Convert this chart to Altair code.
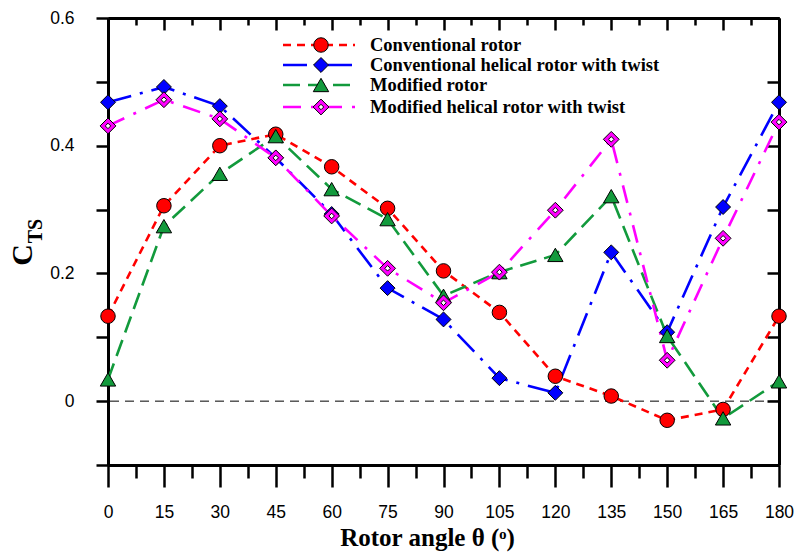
import altair as alt
import pandas as pd

angles = [0, 15, 30, 45, 60, 75, 90, 105, 120, 135, 150, 165, 180]
series_names = [
    "Conventional rotor",
    "Conventional helical rotor with twist",
    "Modified rotor",
    "Modified helical rotor with twist",
]
conv_rotor = [0.133, 0.306, 0.400, 0.418, 0.367, 0.302, 0.204, 0.139, 0.039, 0.008, -0.030, -0.013, 0.133]
conv_helical = [0.468, 0.492, 0.462, 0.381, 0.293, 0.177, 0.128, 0.036, 0.013, 0.233, 0.108, 0.304, 0.468]
mod_rotor = [0.034, 0.274, 0.356, 0.415, 0.332, 0.285, 0.165, 0.202, 0.229, 0.321, 0.102, -0.027, 0.031]
mod_helical = [0.431, 0.472, 0.442, 0.381, 0.290, 0.208, 0.154, 0.202, 0.299, 0.410, 0.064, 0.255, 0.437]

x_major = [0, 15, 30, 45, 60, 75, 90, 105, 120, 135, 150, 165, 180]
x_minor = [7.5, 22.5, 37.5, 52.5, 67.5, 82.5, 97.5, 112.5, 127.5, 142.5, 157.5, 172.5]
y_ticks = [-0.1, 0.0, 0.1, 0.2, 0.3, 0.4, 0.5, 0.6]
y_labels = ["0", "0.2", "0.4", "0.6"]

colors = ["#FF0000", "#0000FF", "#129A3C", "#FF00FF"]
dashes = [[8, 6], [24, 9, 3, 9], [17, 8], [18, 10, 3, 10]]
shapes = ["circle", "diamond", "triangle-up", "diamond"]
sizes = [210, 250, 230, 170]

W, H = 671, 447

rows = []
for name, vals in zip(series_names, [conv_rotor, conv_helical, mod_rotor, mod_helical]):
    for a, v in zip(angles, vals):
        rows.append({"angle": a, "cts": v, "series": name})
df = pd.DataFrame(rows)

color_scale = alt.Scale(domain=series_names, range=colors)
dash_scale = alt.Scale(domain=series_names, range=dashes)
shape_scale = alt.Scale(domain=series_names, range=shapes)
size_scale = alt.Scale(domain=series_names, range=sizes)

xs = alt.Scale(domain=[0, 180], nice=False, zero=False)
ys = alt.Scale(domain=[-0.1, 0.6], nice=False, zero=False)

serif = "Liberation Serif"
sans = "Liberation Sans"

common_axis = dict(domain=True, domainColor="black", domainWidth=3,
                   tickColor="black", tickWidth=2.5, grid=False)

# axis layer 1: bottom major x + left y
ax1 = alt.Chart(df).mark_point(opacity=0).encode(
    x=alt.X("angle:Q", scale=xs, axis=alt.Axis(
        orient="bottom", values=x_major, tickSize=22, labelFont=sans, labelFontSize=17.5,
        labelColor="black", labelPadding=16, format="d", labelFlush=False, labelOverlap=False,
        title="Rotor angle θ (ᵒ)", titleFont=serif, titleFontSize=25, titleFontWeight="bold",
        titleColor="black", titleX=319, titleY=80, titleBaseline="alphabetic", titleAlign="center",
        **common_axis)),
    y=alt.Y("cts:Q", scale=ys, axis=alt.Axis(
        orient="left", values=y_ticks, tickSize=12, labelFont=sans, labelFontSize=17.5,
        labelColor="black", labelPadding=22, format="~g", labelFlush=False, labelOverlap=False,
        labelExpr="indexof(" + str(y_labels) + ", datum.label) >= 0 ? datum.label : ''",
        title=None, **common_axis)),
)
# axis layer 2: bottom minor x + right (inward) y
ax2 = alt.Chart(df).mark_point(opacity=0).encode(
    x=alt.X("angle:Q", scale=xs, axis=alt.Axis(
        orient="bottom", values=x_minor, tickSize=13, labels=False, title=None, **common_axis)),
    y=alt.Y("cts:Q", scale=ys, axis=alt.Axis(
        orient="left", offset=-W, values=y_ticks, tickSize=12, labels=False, title=None, **common_axis)),
)
# axis layer 3: top major inward
ax3 = alt.Chart(df).mark_point(opacity=0).encode(
    x=alt.X("angle:Q", scale=xs, axis=alt.Axis(
        orient="bottom", offset=-H, values=x_major, tickSize=12, labels=False, title=None, **common_axis)),
    y=alt.Y("cts:Q", scale=ys, axis=None),
)
# axis layer 4: top minor inward
ax4 = alt.Chart(df).mark_point(opacity=0).encode(
    x=alt.X("angle:Q", scale=xs, axis=alt.Axis(
        orient="bottom", offset=-H, values=x_minor, tickSize=7, labels=False, title=None, **common_axis)),
    y=alt.Y("cts:Q", scale=ys, axis=None),
)

zero_line = alt.Chart(pd.DataFrame({"z": [0.0]})).mark_rule(
    color="black", strokeDash=[9, 6], strokeWidth=1
).encode(y=alt.Y("z:Q", scale=ys, axis=None))

lines = alt.Chart(df).mark_line(strokeWidth=2.6).encode(
    x=alt.X("angle:Q", scale=xs, axis=None),
    y=alt.Y("cts:Q", scale=ys, axis=None),
    color=alt.Color("series:N", scale=color_scale, legend=None),
    strokeDash=alt.StrokeDash("series:N", scale=dash_scale, legend=None),
    detail="series:N",
)

points = alt.Chart(df).mark_point(filled=True, opacity=1, stroke="black", strokeWidth=1).encode(
    x=alt.X("angle:Q", scale=xs, axis=None),
    y=alt.Y("cts:Q", scale=ys, axis=None),
    fill=alt.Fill("series:N", scale=color_scale, legend=None),
    shape=alt.Shape("series:N", scale=shape_scale, legend=None),
    size=alt.Size("series:N", scale=size_scale, legend=None),
)

inner = alt.Chart(df[df["series"] == series_names[3]]).mark_point(
    filled=True, opacity=1, fill="white", stroke="black", strokeWidth=1, shape="diamond", size=30
).encode(
    x=alt.X("angle:Q", scale=xs, axis=None),
    y=alt.Y("cts:Q", scale=ys, axis=None),
)

# legend (inside plot, top)
leg_y = [27, 47, 67, 89]
leg = pd.DataFrame({"series": series_names, "ly": leg_y})
leg_lines = alt.Chart(leg).mark_rule(strokeWidth=2.6).encode(
    x=alt.value(175), x2=alt.value(247),
    y=alt.Y("ly:Q", scale=None, axis=None),
    color=alt.Color("series:N", scale=color_scale, legend=None),
    strokeDash=alt.StrokeDash("series:N", scale=dash_scale, legend=None),
)
leg_pts = alt.Chart(leg).mark_point(filled=True, opacity=1, stroke="black", strokeWidth=1).encode(
    x=alt.value(213),
    y=alt.Y("ly:Q", scale=None, axis=None),
    fill=alt.Fill("series:N", scale=color_scale, legend=None),
    shape=alt.Shape("series:N", scale=shape_scale, legend=None),
    size=alt.Size("series:N", scale=size_scale, legend=None),
)
leg_inner = alt.Chart(leg[leg["series"] == series_names[3]]).mark_point(
    filled=True, opacity=1, fill="white", stroke="black", strokeWidth=1, shape="diamond", size=30
).encode(x=alt.value(213), y=alt.Y("ly:Q", scale=None, axis=None))
leg_text = alt.Chart(leg).mark_text(
    align="left", baseline="middle", font=serif, fontWeight="bold", fontSize=18.5, color="black"
).encode(x=alt.value(262), y=alt.Y("ly:Q", scale=None, axis=None), text="series:N")

# y-axis title C_TS
ttl = pd.DataFrame({"t": ["C", "TS"], "tx": [-76, -66], "ty": [237, 213]})
title_c = alt.Chart(ttl[ttl["t"] == "C"]).mark_text(
    angle=270, align="center", baseline="alphabetic", font=serif, fontWeight="bold", fontSize=30, color="black"
).encode(x=alt.X("tx:Q", scale=None, axis=None), y=alt.Y("ty:Q", scale=None, axis=None), text="t:N")
title_ts = alt.Chart(ttl[ttl["t"] == "TS"]).mark_text(
    angle=270, align="center", baseline="alphabetic", font=serif, fontWeight="bold", fontSize=20, color="black"
).encode(x=alt.X("tx:Q", scale=None, axis=None), y=alt.Y("ty:Q", scale=None, axis=None), text="t:N")

chart = alt.layer(
    ax1, ax2, ax3, ax4, zero_line, lines, points, inner,
    leg_lines, leg_pts, leg_inner, leg_text, title_c, title_ts
).resolve_axis(x="independent", y="independent").properties(
    width=W, height=H,
    autosize=alt.AutoSizeParams(type="none"),
    padding={"left": 108, "top": 18, "right": 18, "bottom": 88},
).configure_view(stroke=None).configure(background="white")

chart.save("out.html", embed_options={"renderer": "svg", "actions": False})
